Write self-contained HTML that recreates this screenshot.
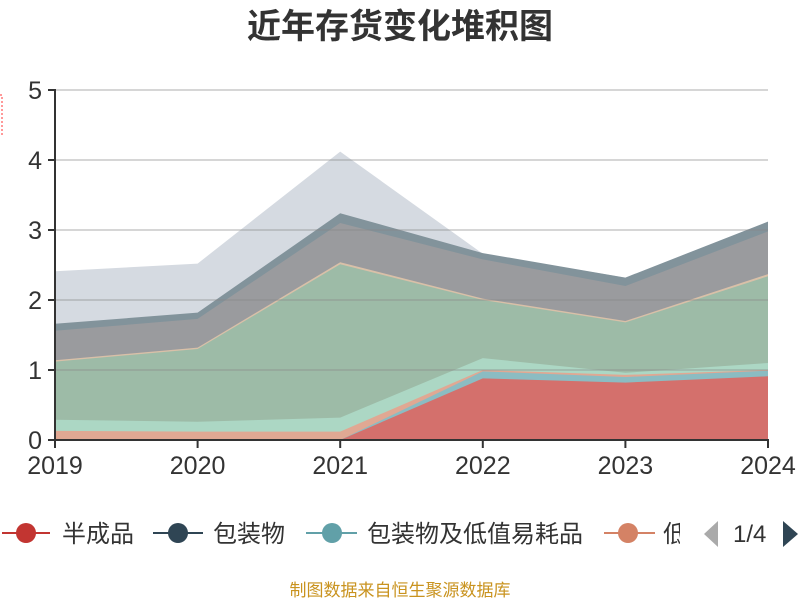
<!DOCTYPE html>
<html><head><meta charset="utf-8"><style>
html,body{margin:0;padding:0;background:#fff;}
body{width:800px;height:600px;overflow:hidden;position:relative;font-family:"Liberation Sans","Noto Sans CJK SC",sans-serif;}
</style></head><body>
<svg id="s" width="800" height="600" xmlns="http://www.w3.org/2000/svg" style="position:absolute;left:0;top:0">
<text x="400" y="38" text-anchor="middle" font-size="34" font-weight="bold" fill="#333" font-family="Liberation Sans,Noto Sans CJK SC,sans-serif">近年存货变化堆积图</text>
<g id="areas"></g>
<g stroke="#888" stroke-opacity="0.45" stroke-width="1.5">
<line x1="55" x2="768" y1="90" y2="90"/><line x1="55" x2="768" y1="160" y2="160"/>
<line x1="55" x2="768" y1="230" y2="230"/><line x1="55" x2="768" y1="300" y2="300"/>
<line x1="55" x2="768" y1="370" y2="370"/>
</g>
<g stroke="#333" stroke-width="2">
<line x1="55" y1="89" x2="55" y2="441"/><line x1="54" y1="440" x2="769" y2="440"/>
<line x1="48" x2="55" y1="90" y2="90"/><line x1="48" x2="55" y1="160" y2="160"/><line x1="48" x2="55" y1="230" y2="230"/><line x1="48" x2="55" y1="300" y2="300"/><line x1="48" x2="55" y1="370" y2="370"/><line x1="48" x2="55" y1="440" y2="440"/>
<line x1="55" x2="55" y1="440" y2="448"/><line x1="197.6" x2="197.6" y1="440" y2="448"/><line x1="340.2" x2="340.2" y1="440" y2="448"/><line x1="482.8" x2="482.8" y1="440" y2="448"/><line x1="625.4" x2="625.4" y1="440" y2="448"/><line x1="768" x2="768" y1="440" y2="448"/>
</g>
<g font-size="25" fill="#333" text-anchor="end">
<text x="42" y="99">5</text><text x="42" y="169">4</text><text x="42" y="239">3</text><text x="42" y="309">2</text><text x="42" y="379">1</text><text x="42" y="449">0</text>
</g>
<g font-size="25" fill="#333" text-anchor="middle">
<text x="55" y="474">2019</text><text x="197.6" y="474">2020</text><text x="340.2" y="474">2021</text><text x="482.8" y="474">2022</text><text x="625.4" y="474">2023</text><text x="768" y="474">2024</text>
</g>
<rect x="-4" y="95" width="6" height="40" fill="none" stroke="#f33" stroke-dasharray="2,2"/>
<g stroke-width="2">
<line x1="2" x2="50" y1="533" y2="533" stroke="#c23531"/><circle cx="26" cy="533" r="10" fill="#c23531"/>
<line x1="153" x2="203" y1="533" y2="533" stroke="#2f4554"/><circle cx="178" cy="533" r="10" fill="#2f4554"/>
<line x1="306" x2="357" y1="533" y2="533" stroke="#61a0a8"/><circle cx="332" cy="533" r="10" fill="#61a0a8"/>
<line x1="604" x2="655" y1="533" y2="533" stroke="#d48265"/><circle cx="628" cy="533" r="10" fill="#d48265"/>
</g>
<g font-size="24" fill="#333" font-family="Liberation Sans,Noto Sans CJK SC,sans-serif">
<text x="62" y="542">半成品</text><text x="213" y="542">包装物</text><text x="367" y="542">包装物及低值易耗品</text>
<svg x="662" y="510" width="18" height="45"><text x="1" y="32">低</text></svg>
<text x="733" y="542">1/4</text>
</g>
<polygon points="718,521 718,547 704,534" fill="#aaa"/>
<polygon points="783,521 783,547 798,534" fill="#2f4554"/>
<text x="400" y="596" text-anchor="middle" font-size="17" fill="#c9931f" font-family="Liberation Sans,Noto Sans CJK SC,sans-serif">制图数据来自恒生聚源数据库</text>
</svg>
<script>
var xs=[55,197.6,340.2,482.8,625.4,768];
var layers=[
["#d5dae1",[2.41,2.52,4.12,2.66,2.32,3.12]],
["#82939b",[1.66,1.82,3.24,2.67,2.32,3.12]],
["#9a9b9e",[1.56,1.73,3.1,2.58,2.2,2.98]],
["#d9c0a8",[1.14,1.32,2.54,2.02,1.7,2.37]],
["#9dbba7",[1.12,1.3,2.51,2.0,1.68,2.34]],
["#acd7c4",[0.29,0.26,0.32,1.17,0.96,1.1]],
["#e0a893",[0.13,0.12,0.12,1.0,0.93,1.0]],
["#8bbcc2",[0,0,0,0.98,0.9,0.99]],
["#d4706c",[0,0,0,0.88,0.82,0.91]]
];
var g=document.getElementById('areas'),h='';
layers.forEach(function(l){
 var p=xs.map(function(x,i){return x+','+(440-70*l[1][i]).toFixed(1)}).join(' ');
 p+=' 768,440 55,440';
 h+='<polygon points="'+p+'" fill="'+l[0]+'"/>';
});
g.innerHTML=h;
</script>
</body></html>
